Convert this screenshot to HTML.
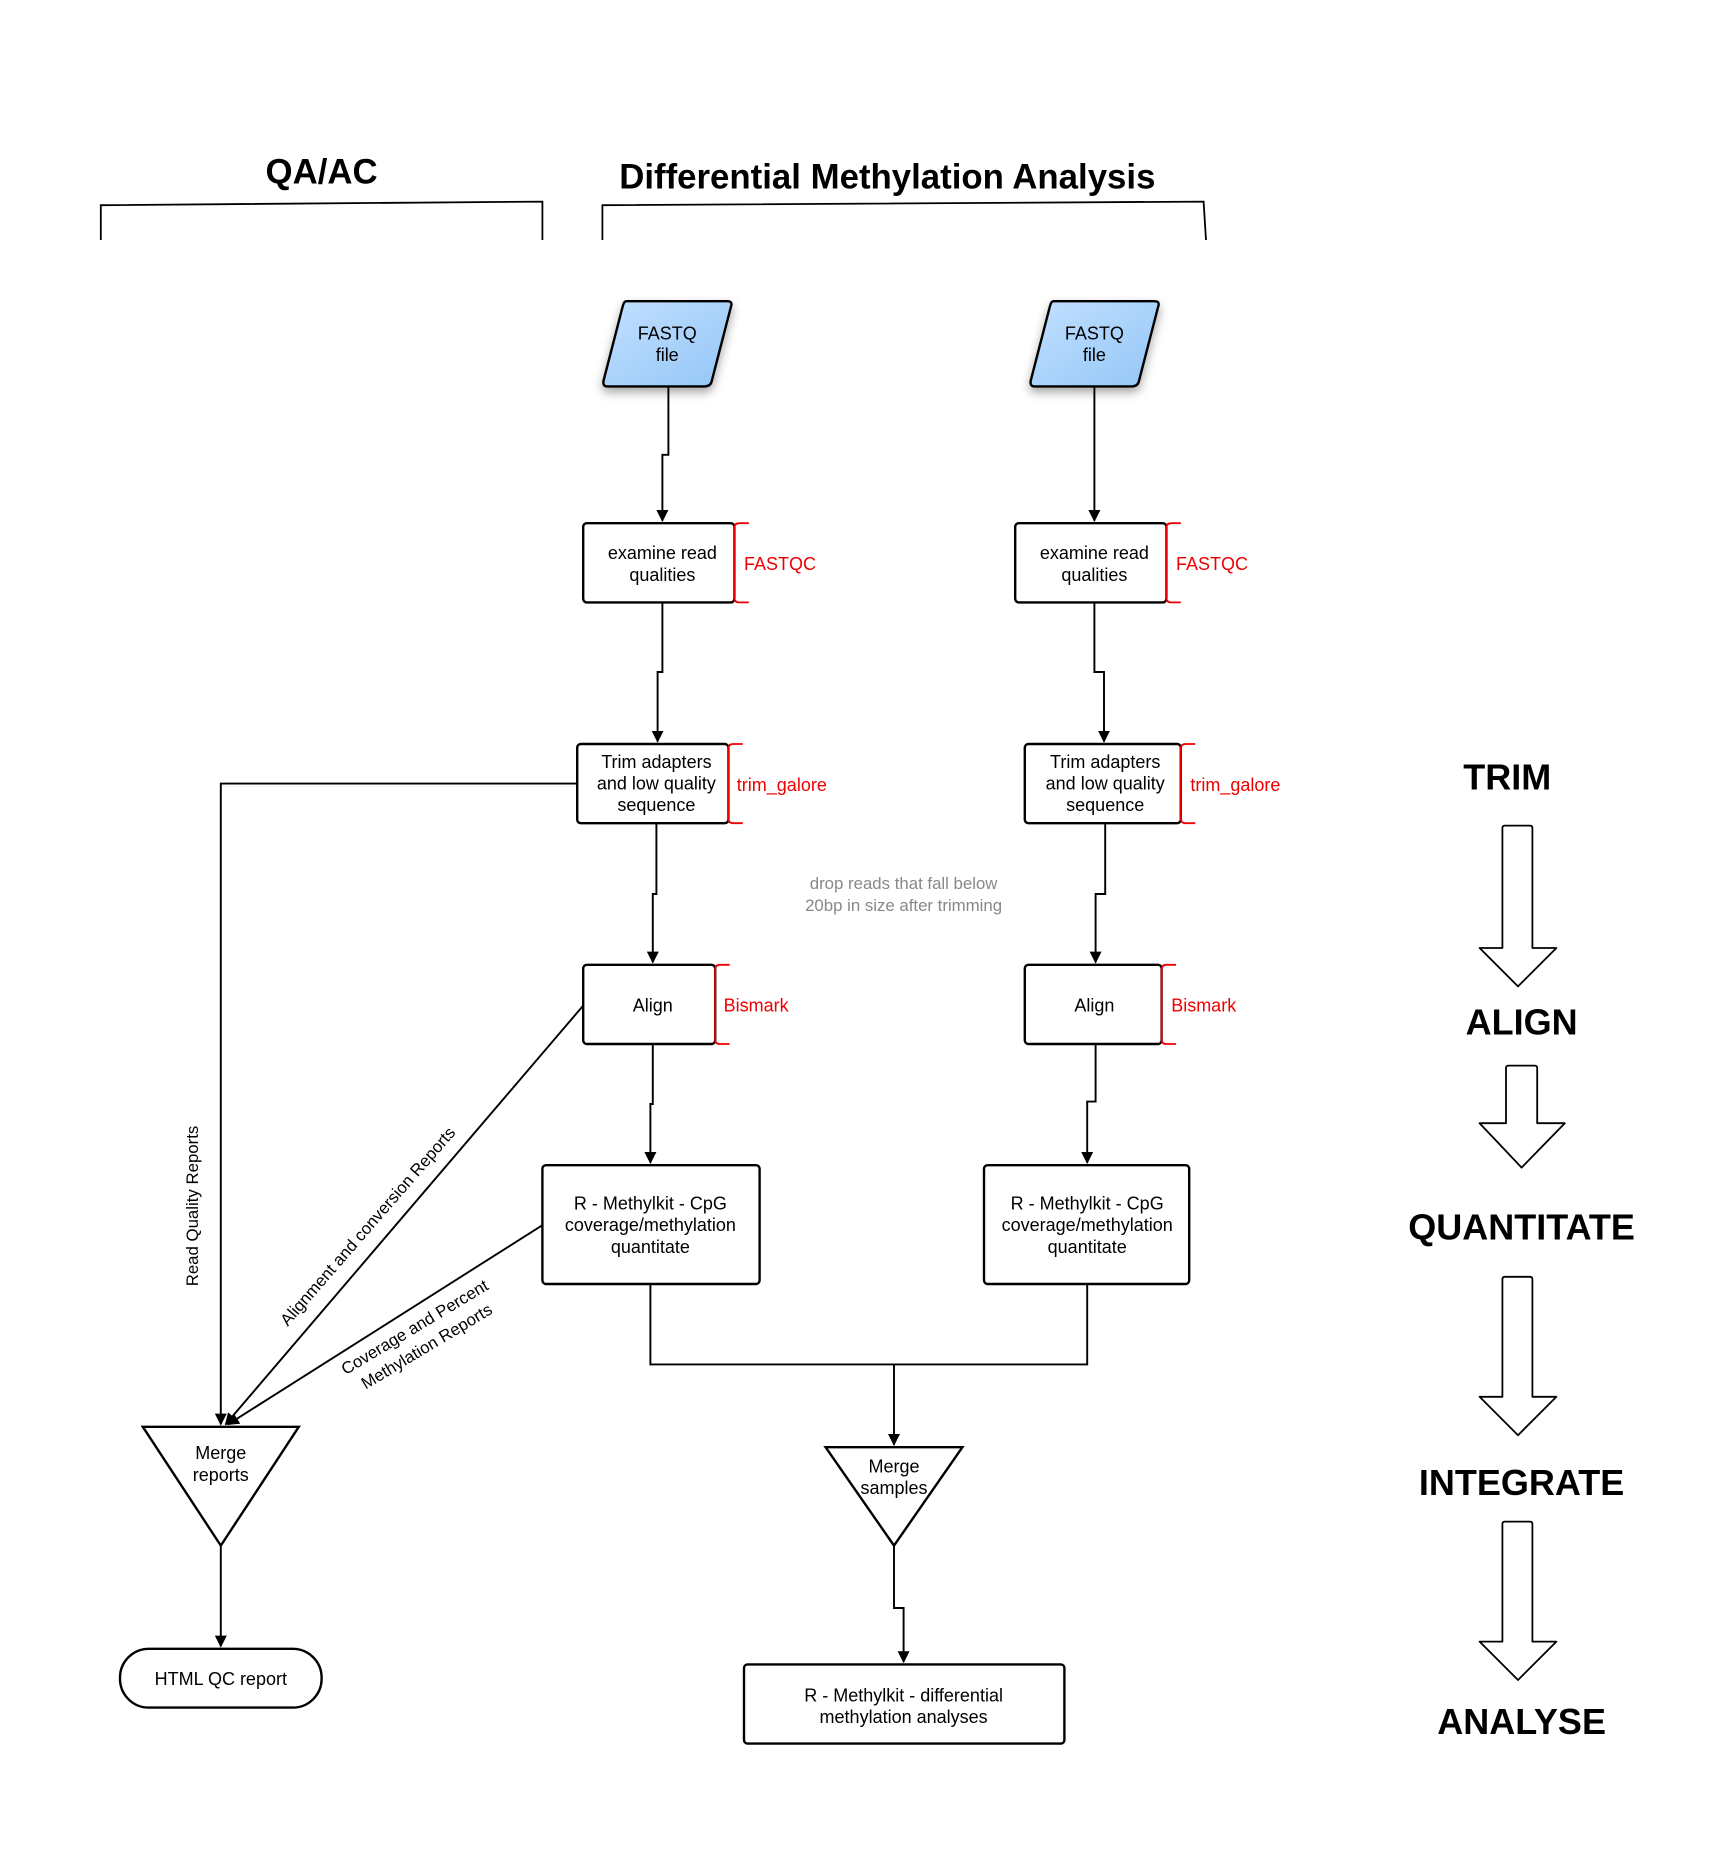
<!DOCTYPE html>
<html><head><meta charset="utf-8"><style>
html,body{margin:0;padding:0;background:#fff;}
svg{display:block;}
text{font-family:"Liberation Sans",sans-serif;}
</style></head><body>
<svg width="1728" height="1872" viewBox="0 0 1440 1560" xmlns="http://www.w3.org/2000/svg">
<defs>
<marker id="ar" markerWidth="10" markerHeight="10" refX="9" refY="5" orient="auto" markerUnits="userSpaceOnUse" viewBox="0 0 10 10"><path d="M0,0 L10,5 L0,10 z" fill="#000"/></marker>
<linearGradient id="bl" x1="0" y1="0" x2="1" y2="1"><stop offset="0" stop-color="#c2e0ff"/><stop offset="1" stop-color="#94c6f7"/></linearGradient>
<filter id="sh" x="-30%" y="-30%" width="160%" height="160%"><feDropShadow dx="0" dy="4" stdDeviation="4" flood-color="#000" flood-opacity="0.35"/></filter>
</defs>
<g fill="none" stroke="#000" stroke-width="1.5">
<path d="M84,200 V171 L452,168 V200"/>
<path d="M502,200 V171 L1003,168 L1005,200"/>
</g>
<text x="268" y="153" font-size="29" font-weight="bold" text-anchor="middle">QA/AC</text>
<text x="516" y="157" font-size="29" font-weight="bold">Differential Methylation Analysis</text>

<g stroke="#000" stroke-width="2" fill="url(#bl)" filter="url(#sh)">
<path d="M522,251 H606 Q611,251 609,256 L593,318 Q592,322 587,322 H506 Q502,322 503,317 L519,255 Q520,251 522,251 Z"/>
<path d="M878,251 H962 Q967,251 965,256 L949,318 Q948,322 943,322 H862 Q858,322 859,317 L875,255 Q876,251 878,251 Z"/>
</g>
<g font-size="15" text-anchor="middle">
<text x="556" y="283">FASTQ</text><text x="556" y="301">file</text>
<text x="912" y="283">FASTQ</text><text x="912" y="301">file</text>
</g>

<g fill="#fff" stroke="#000" stroke-width="2">
<rect x="486" y="436" width="126" height="66" rx="3"/>
<rect x="846" y="436" width="126" height="66" rx="3"/>
<rect x="481" y="620" width="126" height="66" rx="3"/>
<rect x="854" y="620" width="130" height="66" rx="3"/>
<rect x="486" y="804" width="110" height="66" rx="3"/>
<rect x="854" y="804" width="114" height="66" rx="3"/>
<rect x="452" y="971" width="181" height="99" rx="3"/>
<rect x="820" y="971" width="171" height="99" rx="3"/>
<rect x="620" y="1387" width="267" height="66" rx="3"/>
<rect x="100" y="1374" width="168" height="49" rx="24"/>
<path d="M688,1206 H802 L745,1288 Z"/>
<path d="M119,1189 H249 L184,1288 Z"/>
</g>
<g fill="none" stroke="#e00" stroke-width="1.5">
<path d="M624,436 H616 Q612,436 612,440 V498 Q612,502 616,502 H624"/>
<path d="M984,436 H976 Q972,436 972,440 V498 Q972,502 976,502 H984"/>
<path d="M619,620 H611 Q607,620 607,624 V682 Q607,686 611,686 H619"/>
<path d="M996,620 H988 Q984,620 984,624 V682 Q984,686 988,686 H996"/>
<path d="M608,804 H600 Q596,804 596,808 V866 Q596,870 600,870 H608"/>
<path d="M980,804 H972 Q968,804 968,808 V866 Q968,870 972,870 H980"/>
</g>
<g font-size="15" fill="#e00">
<text x="620" y="475">FASTQC</text><text x="980" y="475">FASTQC</text>
<text x="614" y="659">trim_galore</text><text x="992" y="659">trim_galore</text>
<text x="603" y="843">Bismark</text><text x="976" y="843">Bismark</text>
</g>
<g font-size="15" text-anchor="middle">
<text x="552" y="466">examine read</text><text x="552" y="484">qualities</text>
<text x="912" y="466">examine read</text><text x="912" y="484">qualities</text>
<text x="547" y="640">Trim adapters</text><text x="547" y="658">and low quality</text><text x="547" y="676">sequence</text>
<text x="921" y="640">Trim adapters</text><text x="921" y="658">and low quality</text><text x="921" y="676">sequence</text>
<text x="544" y="843">Align</text><text x="912" y="843">Align</text>
<text x="542" y="1008">R - Methylkit  - CpG</text><text x="542" y="1026">coverage/methylation</text><text x="542" y="1044">quantitate</text>
<text x="906" y="1008">R - Methylkit  - CpG</text><text x="906" y="1026">coverage/methylation</text><text x="906" y="1044">quantitate</text>
<text x="745" y="1227">Merge</text><text x="745" y="1245">samples</text>
<text x="184" y="1216">Merge</text><text x="184" y="1234">reports</text>
<text x="753" y="1418">R - Methylkit  - differential</text><text x="753" y="1436">methylation analyses</text>
<text x="184" y="1404">HTML QC report</text>
</g>
<g fill="#888" font-size="14" text-anchor="middle">
<text x="753" y="741">drop reads that fall below</text><text x="753" y="759">20bp in size after trimming</text>
</g>

<g fill="none" stroke="#000" stroke-width="1.6">
<path d="M557,322 V379 H552 V434" marker-end="url(#ar)"/>
<path d="M912,322 V379 H912 V434" marker-end="url(#ar)"/>
<path d="M552,502 V560 H548 V618" marker-end="url(#ar)"/>
<path d="M912,502 V560 H920 V618" marker-end="url(#ar)"/>
<path d="M547,686 V745 H544 V802" marker-end="url(#ar)"/>
<path d="M921,686 V745 H913 V802" marker-end="url(#ar)"/>
<path d="M544,870 V920 H542 V969" marker-end="url(#ar)"/>
<path d="M913,870 V918 H906 V969" marker-end="url(#ar)"/>
<path d="M542,1070 V1137 H906 V1070"/>
<path d="M745,1137 V1204" marker-end="url(#ar)"/>
<path d="M745,1288 V1340 H753 V1385" marker-end="url(#ar)"/>
<path d="M481,653 H184 V1187" marker-end="url(#ar)"/>
<path d="M486,838 L188,1187" marker-end="url(#ar)"/>
<path d="M452,1021 L190,1187" marker-end="url(#ar)"/>
<path d="M184,1288 V1372" marker-end="url(#ar)"/>
</g>
<g font-size="14">
<text transform="translate(165,1005) rotate(-90)" text-anchor="middle">Read Quality Reports</text>
<text transform="translate(310,1025) rotate(-49)" text-anchor="middle">Alignment and conversion Reports</text>
<text transform="translate(348,1110) rotate(-31)" text-anchor="middle">Coverage and Percent</text>
<text transform="translate(358,1126) rotate(-31)" text-anchor="middle">Methylation Reports</text>
</g>

<g font-size="30" font-weight="bold" text-anchor="middle">
<text x="1256" y="658">TRIM</text>
<text x="1268" y="862">ALIGN</text>
<text x="1268" y="1033">QUANTITATE</text>
<text x="1268" y="1246">INTEGRATE</text>
<text x="1268" y="1445">ANALYSE</text>
</g>
<g fill="#fff" stroke="#000" stroke-width="1.5" stroke-linejoin="round">
<path d="M1254,688 H1275 Q1277,688 1277,690 V790 H1297 L1265,822 L1233,790 H1252 V690 Q1252,688 1254,688 Z"/>
<path d="M1257,888 H1279 Q1281,888 1281,890 V936 H1304 L1268,973 L1233,936 H1255 V890 Q1255,888 1257,888 Z"/>
<path d="M1254,1064 H1275 Q1277,1064 1277,1066 V1164 H1297 L1265,1196 L1233,1164 H1252 V1066 Q1252,1064 1254,1064 Z"/>
<path d="M1254,1268 H1275 Q1277,1268 1277,1270 V1368 H1297 L1265,1400 L1233,1368 H1252 V1270 Q1252,1268 1254,1268 Z"/>
</g>
</svg>
</body></html>
